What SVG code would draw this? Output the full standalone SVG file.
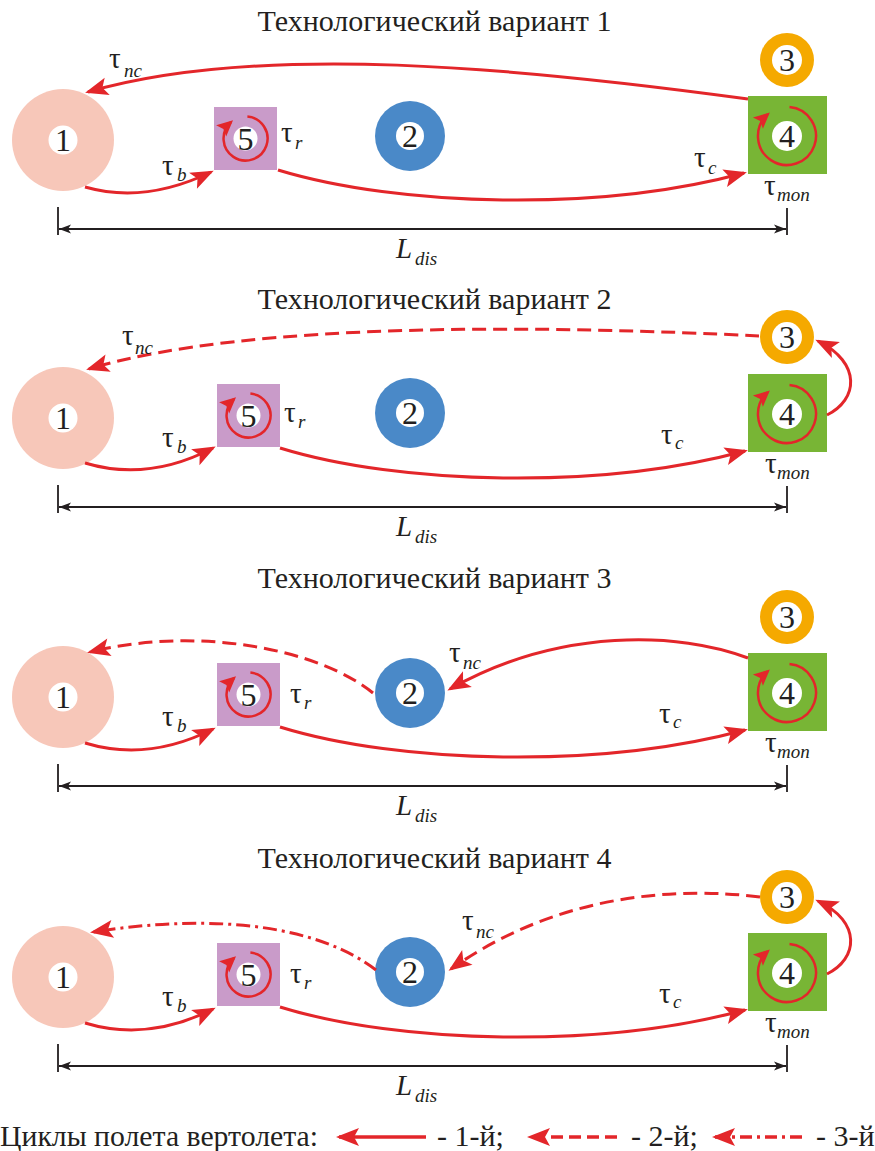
<svg xmlns="http://www.w3.org/2000/svg" width="875" height="1151" viewBox="0 0 875 1151">
  <style>
    text { font-family: "Liberation Serif", "DejaVu Serif", "Noto Serif", serif; fill: #231f20; }
    .title { font-size: 30px; text-anchor: middle; }
    .num { font-size: 32px; text-anchor: middle; }
    .tau { font-size: 29px; }
    .sub { font-size: 19px; font-style: italic; }
    .big { font-size: 29px; font-style: italic; }
    .legend { font-size: 30px; }
    .n1 { fill: #f7c7b9; }
    .n2 { fill: #4a89c8; }
    .n3 { fill: #f5a900; }
    .n4 { fill: #78b535; }
    .n5 { fill: #c99bc9; }
    .hole { fill: #ffffff; }
    .flow { fill: none; stroke: #e3262a; stroke-width: 3; marker-end: url(#head); }
    .dash { stroke-dasharray: 14 7; }
    .dashdot { stroke-dasharray: 14 5 3 5; }
    .loop { fill: none; stroke: #e3262a; stroke-width: 2.5; marker-end: url(#headSmall); }
    .dim { fill: none; stroke: #231f20; stroke-width: 1.8; }
    .dimline { marker-start: url(#dimHead); marker-end: url(#dimHead); }
  </style>
  <defs>
    <marker id="head" markerUnits="userSpaceOnUse" viewBox="-23 -10 27 20" markerWidth="27" markerHeight="20" refX="0" refY="0" orient="auto" overflow="visible">
      <path d="M3,0 L-20,-9 L-15,0 L-20,9 Z" fill="#e3262a"/>
    </marker>
    <marker id="headSmall" markerUnits="userSpaceOnUse" viewBox="-16 -8 19 16" markerWidth="19" markerHeight="16" refX="0" refY="0" orient="auto" overflow="visible">
      <path d="M3,0 L-13,-7.5 L-10,0 L-13,7.5 Z" fill="#e3262a"/>
    </marker>
    <marker id="dimHead" markerUnits="userSpaceOnUse" viewBox="-12 -5 13 10" markerWidth="13" markerHeight="10" refX="0" refY="0" orient="auto-start-reverse" overflow="visible">
      <path d="M0,0 L-12,-4.5 L-9,0 L-12,4.5 Z" fill="#231f20"/>
    </marker>
  </defs>

  <!-- ===== Variant 1 ===== -->
  <g id="variant-1">
    <text class="title" x="434.5" y="31">Технологический вариант 1</text>
    <g id="v1-node-1"><circle class="n1" cx="63" cy="140" r="51"/><circle class="hole" cx="63" cy="140" r="14.5"/><text class="num" x="63" y="151">1</text></g>
    <g id="v1-node-5"><rect class="n5" x="214" y="107" width="63" height="63"/><circle class="hole" cx="245.5" cy="138.5" r="12"/><text class="num" x="245.5" y="149.5">5</text>
      <path class="loop" d="M247.4,116.6 A22,22 0 1 1 230.8,122.2"/></g>
    <g id="v1-node-2"><circle class="n2" cx="410" cy="136" r="35"/><circle class="hole" cx="410" cy="136" r="14"/><text class="num" x="410" y="147">2</text></g>
    <g id="v1-node-4"><rect class="n4" x="748" y="96" width="79" height="78"/><circle class="hole" cx="787" cy="136" r="15"/><text class="num" x="787" y="147">4</text>
      <path class="loop" d="M789.5,107.1 A29,29 0 1 1 767.6,114.4"/></g>
    <g id="v1-node-3"><circle class="n3" cx="787" cy="60" r="27"/><circle class="hole" cx="787" cy="60" r="15"/><text class="num" x="787" y="71">3</text></g>
    <g id="v1-connectors">
      <path class="flow" d="M748,99 C520,68 260,42 88,92"/>
      <path class="flow" d="M85,187 Q145,204 211,172"/>
      <path class="flow" d="M278,170 C400,207 600,212 744,173"/>
    </g>
    <g id="v1-labels">
      <text class="tau" x="109" y="68">τ</text><text class="sub" x="124" y="77">nc</text>
      <text class="tau" x="162" y="175">τ</text><text class="sub" x="177" y="181">b</text>
      <text class="tau" x="281" y="142">τ</text><text class="sub" x="295" y="149">r</text>
      <text class="tau" x="694" y="167">τ</text><text class="sub" x="708" y="174">c</text>
      <text class="tau" x="764" y="195">τ</text><text class="sub" x="777" y="201">mon</text>
    </g>
    <g id="v1-distance">
      <path class="dim" d="M58,207 V235 M787,208 V235"/>
      <path class="dim dimline" d="M59,229 H786"/>
      <text class="big" x="396" y="258">L</text><text class="sub" x="415" y="265">dis</text>
    </g>
  </g>

  <!-- ===== Variant 2 ===== -->
  <g id="variant-2" transform="translate(0,278)">
    <text class="title" x="434.5" y="31">Технологический вариант 2</text>
    <g id="v2-node-1"><circle class="n1" cx="63" cy="140" r="51"/><circle class="hole" cx="63" cy="140" r="14.5"/><text class="num" x="63" y="151">1</text></g>
    <g id="v2-node-5"><rect class="n5" x="217" y="106" width="63" height="63"/><circle class="hole" cx="248.5" cy="137.5" r="12"/><text class="num" x="248.5" y="148.5">5</text>
      <path class="loop" d="M250.4,115.6 A22,22 0 1 1 233.8,121.2"/></g>
    <g id="v2-node-2"><circle class="n2" cx="410" cy="135" r="35"/><circle class="hole" cx="410" cy="135" r="14"/><text class="num" x="410" y="146">2</text></g>
    <g id="v2-node-4"><rect class="n4" x="748" y="96" width="79" height="78"/><circle class="hole" cx="787" cy="136" r="15"/><text class="num" x="787" y="147">4</text>
      <path class="loop" d="M789.5,107.1 A29,29 0 1 1 767.6,114.4"/></g>
    <g id="v2-node-3"><circle class="n3" cx="787" cy="59" r="27"/><circle class="hole" cx="787" cy="59" r="15"/><text class="num" x="787" y="70">3</text></g>
    <g id="v2-connectors">
      <path class="flow dash" d="M759,58 C560,48 250,42 89,91"/>
      <path class="flow" d="M827,137 C858,122 862,85 818,63"/>
      <path class="flow" d="M85,185 Q148,204 213,170"/>
      <path class="flow" d="M280,170 C400,207 600,212 745,173"/>
    </g>
    <g id="v2-labels">
      <text class="tau" x="122" y="67">τ</text><text class="sub" x="135" y="76">nc</text>
      <text class="tau" x="162" y="169">τ</text><text class="sub" x="177" y="175">b</text>
      <text class="tau" x="284" y="144">τ</text><text class="sub" x="298" y="150">r</text>
      <text class="tau" x="661" y="166">τ</text><text class="sub" x="675" y="171">c</text>
      <text class="tau" x="765" y="195">τ</text><text class="sub" x="777" y="201">mon</text>
    </g>
    <g id="v2-distance">
      <path class="dim" d="M58,207 V235 M787,208 V235"/>
      <path class="dim dimline" d="M59,229 H786"/>
      <text class="big" x="396" y="258">L</text><text class="sub" x="415" y="265">dis</text>
    </g>
  </g>

  <!-- ===== Variant 3 ===== -->
  <g id="variant-3" transform="translate(0,557)">
    <text class="title" x="434.5" y="31">Технологический вариант 3</text>
    <g id="v3-node-1"><circle class="n1" cx="63" cy="140" r="51"/><circle class="hole" cx="63" cy="140" r="14.5"/><text class="num" x="63" y="151">1</text></g>
    <g id="v3-node-5"><rect class="n5" x="217" y="106" width="63" height="63"/><circle class="hole" cx="248.5" cy="137.5" r="12"/><text class="num" x="248.5" y="148.5">5</text>
      <path class="loop" d="M250.4,115.6 A22,22 0 1 1 233.8,121.2"/></g>
    <g id="v3-node-2"><circle class="n2" cx="410" cy="136" r="35"/><circle class="hole" cx="410" cy="136" r="14"/><text class="num" x="410" y="147">2</text></g>
    <g id="v3-node-4"><rect class="n4" x="748" y="96" width="79" height="78"/><circle class="hole" cx="787" cy="136" r="15"/><text class="num" x="787" y="147">4</text>
      <path class="loop" d="M789.5,107.1 A29,29 0 1 1 767.6,114.4"/></g>
    <g id="v3-node-3"><circle class="n3" cx="787" cy="60" r="27"/><circle class="hole" cx="787" cy="60" r="15"/><text class="num" x="787" y="71">3</text></g>
    <g id="v3-connectors">
      <path class="flow" d="M748,101 C680,75 560,70 450,132"/>
      <path class="flow dash" d="M373,136 C320,93 200,68 90,95"/>
      <path class="flow" d="M85,186 Q148,205 213,172"/>
      <path class="flow" d="M280,170 C400,207 600,212 745,173"/>
    </g>
    <g id="v3-labels">
      <text class="tau" x="449" y="105">τ</text><text class="sub" x="463" y="112">nc</text>
      <text class="tau" x="162" y="169">τ</text><text class="sub" x="177" y="175">b</text>
      <text class="tau" x="290" y="146">τ</text><text class="sub" x="304" y="152">r</text>
      <text class="tau" x="659" y="166">τ</text><text class="sub" x="673" y="171">c</text>
      <text class="tau" x="765" y="195">τ</text><text class="sub" x="777" y="201">mon</text>
    </g>
    <g id="v3-distance">
      <path class="dim" d="M58,207 V235 M787,208 V235"/>
      <path class="dim dimline" d="M59,229 H786"/>
      <text class="big" x="396" y="258">L</text><text class="sub" x="415" y="265">dis</text>
    </g>
  </g>

  <!-- ===== Variant 4 ===== -->
  <g id="variant-4" transform="translate(0,837)">
    <text class="title" x="434.5" y="31">Технологический вариант 4</text>
    <g id="v4-node-1"><circle class="n1" cx="63" cy="140" r="51"/><circle class="hole" cx="63" cy="140" r="14.5"/><text class="num" x="63" y="151">1</text></g>
    <g id="v4-node-5"><rect class="n5" x="217" y="106" width="63" height="63"/><circle class="hole" cx="248.5" cy="137.5" r="12"/><text class="num" x="248.5" y="148.5">5</text>
      <path class="loop" d="M250.4,115.6 A22,22 0 1 1 233.8,121.2"/></g>
    <g id="v4-node-2"><circle class="n2" cx="410" cy="135" r="35"/><circle class="hole" cx="410" cy="135" r="14"/><text class="num" x="410" y="146">2</text></g>
    <g id="v4-node-4"><rect class="n4" x="748" y="96" width="79" height="78"/><circle class="hole" cx="787" cy="136" r="15"/><text class="num" x="787" y="147">4</text>
      <path class="loop" d="M789.5,107.1 A29,29 0 1 1 767.6,114.4"/></g>
    <g id="v4-node-3"><circle class="n3" cx="787" cy="60" r="27"/><circle class="hole" cx="787" cy="60" r="15"/><text class="num" x="787" y="71">3</text></g>
    <g id="v4-connectors">
      <path class="flow dash" d="M760,60 C680,50 560,55 451,132"/>
      <path class="flow" d="M827,137 C858,122 862,85 818,64"/>
      <path class="flow dashdot" d="M376,133 C320,90 220,75 93,95"/>
      <path class="flow" d="M85,186 Q148,205 213,172"/>
      <path class="flow" d="M280,170 C400,207 600,212 745,173"/>
    </g>
    <g id="v4-labels">
      <text class="tau" x="462" y="93">τ</text><text class="sub" x="476" y="101">nc</text>
      <text class="tau" x="162" y="169">τ</text><text class="sub" x="177" y="175">b</text>
      <text class="tau" x="290" y="146">τ</text><text class="sub" x="304" y="152">r</text>
      <text class="tau" x="659" y="166">τ</text><text class="sub" x="673" y="171">c</text>
      <text class="tau" x="765" y="195">τ</text><text class="sub" x="777" y="201">mon</text>
    </g>
    <g id="v4-distance">
      <path class="dim" d="M58,207 V235 M787,208 V235"/>
      <path class="dim dimline" d="M59,229 H786"/>
      <text class="big" x="396" y="258">L</text><text class="sub" x="415" y="265">dis</text>
    </g>
  </g>

  <!-- ===== Legend ===== -->
  <g id="legend">
    <text class="legend" x="0" y="1146" textLength="318" lengthAdjust="spacingAndGlyphs">Циклы полета вертолета:</text>
    <path class="flow" style="stroke-width:3.5" d="M426,1137 H339"/>
    <text class="legend" x="437" y="1146">- 1-й;</text>
    <path class="flow dash" style="stroke-width:3.5;stroke-dasharray:12 6" d="M617,1137 H530"/>
    <text class="legend" x="631" y="1146">- 2-й;</text>
    <path class="flow dashdot" style="stroke-width:3.5;stroke-dasharray:12 5 3 5" d="M802,1137 H715"/>
    <text class="legend" x="816" y="1146">- 3-й</text>
  </g>
</svg>
